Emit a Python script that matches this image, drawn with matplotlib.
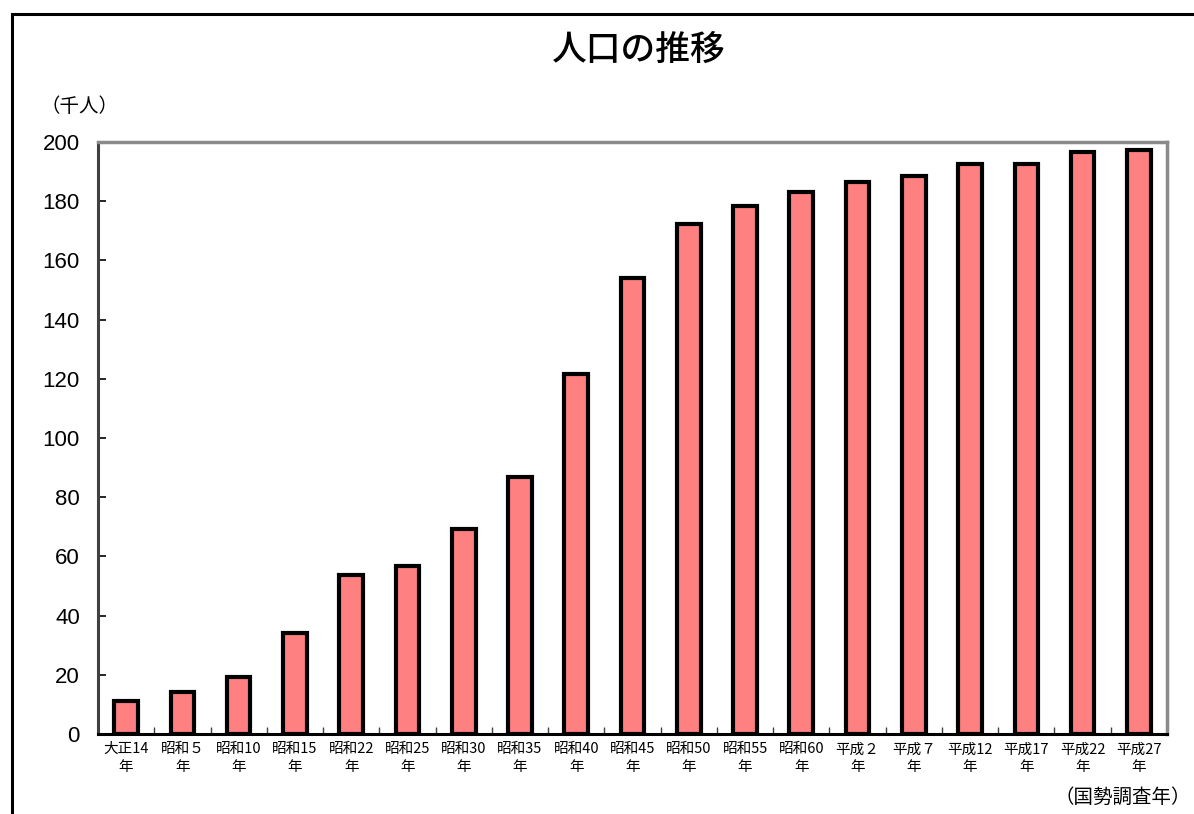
import matplotlib
matplotlib.use("Agg")
import matplotlib.pyplot as plt
from matplotlib.patches import Rectangle
from matplotlib.ticker import FixedLocator

plt.rcParams['font.family'] = ['Noto Sans CJK JP', 'DejaVu Sans']

categories = ["大正14\n年", "昭和５\n年", "昭和10\n年", "昭和15\n年", "昭和22\n年",
              "昭和25\n年", "昭和30\n年", "昭和35\n年", "昭和40\n年", "昭和45\n年",
              "昭和50\n年", "昭和55\n年", "昭和60\n年", "平成２\n年", "平成７\n年",
              "平成12\n年", "平成17\n年", "平成22\n年", "平成27\n年"]
population = [11.2, 14.2, 19.3, 34.1, 53.7, 56.8, 69.3, 86.8, 121.6, 154.1,
              172.3, 178.4, 183.1, 186.5, 188.5, 192.6, 192.6, 196.6, 197.3]
yticks = [0, 20, 40, 60, 80, 100, 120, 140, 160, 180, 200]

fig = plt.figure(figsize=(11.94, 8.14), dpi=100)
fig.patch.set_facecolor("white")

# outer frame
fig.patches.append(Rectangle((12 / 1194, -0.01), 1.2, 1 - 14 / 814 + 0.01,
                             transform=fig.transFigure, fill=False,
                             edgecolor="black", linewidth=2.2))

ax = fig.add_axes([98 / 1194, 1 - 734 / 814, (1167 - 98) / 1194, (734 - 142) / 814])
x = list(range(len(categories)))
ax.bar(x, population, width=0.42, color="#FF8080", edgecolor="black", linewidth=3, zorder=3)

ax.set_xlim(-0.5, len(categories) - 0.5)
ax.set_ylim(0, 200)
ax.set_yticks(yticks)
ax.set_yticklabels([str(v) for v in yticks], fontsize=16, family=['Liberation Sans', 'DejaVu Sans'])
ax.tick_params(axis="y", direction="in", length=6, width=1.2, pad=13, colors="black")

ax.set_xticks(x)
ax.set_xticklabels(categories, fontsize=10.5, linespacing=1.3)
ax.tick_params(axis="x", length=0, pad=6)
ax.xaxis.set_minor_locator(FixedLocator([i + 0.5 for i in range(len(categories) - 1)]))
ax.tick_params(axis="x", which="minor", direction="in", length=5, width=1, colors="#404040")

for side in ("top", "right"):
    ax.spines[side].set_color("#8a8a8a")
    ax.spines[side].set_linewidth(2.5)
ax.spines["left"].set_color("#404040")
ax.spines["left"].set_linewidth(2.2)
ax.spines["bottom"].set_color("black")
ax.spines["bottom"].set_linewidth(2.2)

fig.text(639 / 1194, 1 - 50 / 814, "人口の推移", ha="center", va="center", fontsize=25,
         fontweight="medium")
fig.text(79 / 1194, 1 - 107 / 814, "（千人）", ha="center", va="center", fontsize=14)
fig.text(1191 / 1194, 1 - 797 / 814, "（国勢調査年）", ha="right", va="center", fontsize=14)

fig.savefig("out.png", dpi=100, facecolor="white")
